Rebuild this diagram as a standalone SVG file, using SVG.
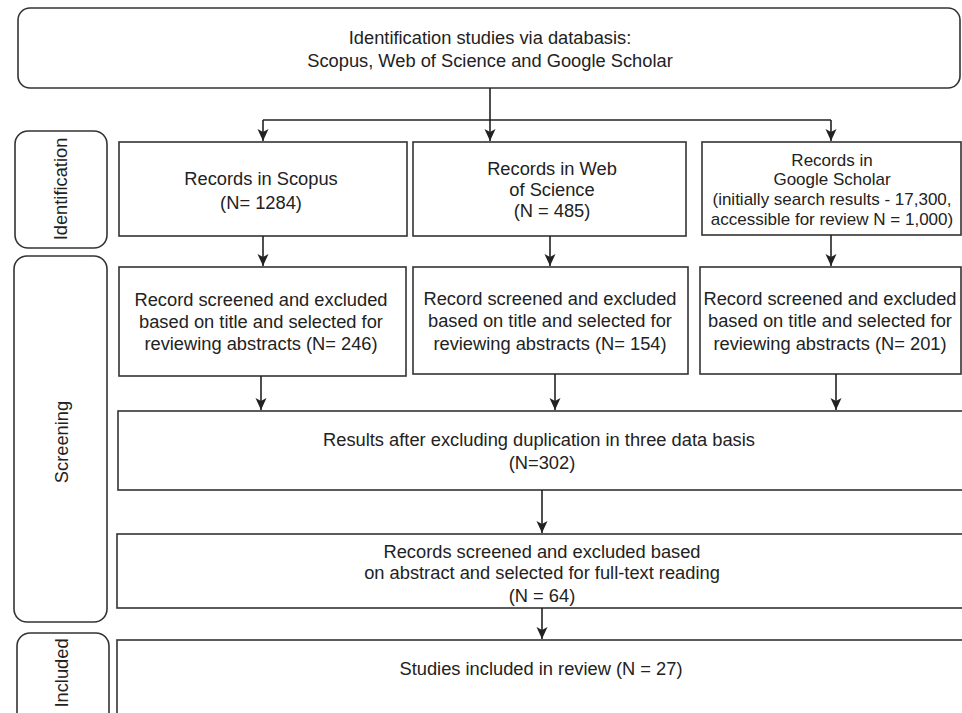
<svg xmlns="http://www.w3.org/2000/svg" width="962" height="713" viewBox="0 0 962 713">
<defs>
<style>
.box{fill:#fff;stroke:#333;stroke-width:1.6}
.t{font-family:"Liberation Sans",Arial,sans-serif;font-size:18.3px;fill:#222;text-anchor:middle}
.s{font-size:17px}
.c{fill:none;stroke:#222;stroke-width:1.6}
</style>
<marker id="ah" markerUnits="userSpaceOnUse" markerWidth="14" markerHeight="14" viewBox="0 0 14 14" refX="12" refY="7" orient="auto">
<path d="M0,1.5 L12,7 L0,12.5 L3,7 Z" fill="#222"/>
</marker>
</defs>
<rect width="962" height="713" fill="#fff"/>

<g id="top">
<rect class="box" x="18" y="8" width="942" height="80" rx="12"/>
<text class="t" x="490" y="43.5">Identification studies via databasis:</text>
<text class="t" x="490" y="66.5">Scopus, Web of Science and Google Scholar</text>
</g>

<g id="lbl-identification">
<rect class="box" x="15" y="131" width="92" height="117" rx="13"/>
<text class="t" transform="translate(67,189) rotate(-90)">Identification</text>
</g>
<g id="lbl-screening">
<rect class="box" x="14" y="256" width="93" height="366" rx="13"/>
<text class="t" transform="translate(68,442) rotate(-90)">Screening</text>
</g>
<g id="lbl-included">
<rect class="box" x="17" y="633" width="92" height="95" rx="13"/>
<text class="t" transform="translate(68,673) rotate(-90)">Included</text>
</g>

<g id="scopus">
<rect class="box" x="119" y="142" width="288" height="94"/>
<text class="t" x="261" y="184.5">Records in Scopus</text>
<text class="t" x="261" y="208.5">(N= 1284)</text>
</g>
<g id="wos">
<rect class="box" x="413" y="142" width="273" height="94"/>
<text class="t" x="552" y="174.5">Records in Web</text>
<text class="t" x="552" y="196">of Science</text>
<text class="t" x="552" y="217">(N = 485)</text>
</g>
<g id="gs">
<rect class="box" x="702" y="142" width="259" height="93"/>
<text class="t s" x="832" y="166">Records in</text>
<text class="t s" x="832" y="184.5">Google Scholar</text>
<text class="t s" x="832" y="204.5">(initially search results - 17,300,</text>
<text class="t s" x="832" y="224.5">accessible for review N = 1,000)</text>
</g>

<g id="screen1">
<rect class="box" x="119" y="267" width="287" height="109"/>
<text class="t" x="261" y="305.5">Record screened and excluded</text>
<text class="t" x="261" y="327.5">based on title and selected for</text>
<text class="t" x="261" y="350">reviewing abstracts (N= 246)</text>
</g>
<g id="screen2">
<rect class="box" x="413" y="267" width="275" height="107"/>
<text class="t" x="550" y="305">Record screened and excluded</text>
<text class="t" x="550" y="327">based on title and selected for</text>
<text class="t" x="550" y="350">reviewing abstracts  (N= 154)</text>
</g>
<g id="screen3">
<rect class="box" x="700" y="267" width="261" height="107"/>
<text class="t" x="830" y="305">Record screened and excluded</text>
<text class="t" x="830" y="327">based on title and selected for</text>
<text class="t" x="830" y="350">reviewing abstracts  (N= 201)</text>
</g>

<g id="results">
<rect class="box" x="118" y="411" width="860" height="79"/>
<text class="t" x="539" y="445.5">Results after excluding duplication in three data basis</text>
<text class="t" x="542" y="468.5">(N=302)</text>
</g>
<g id="fulltext">
<rect class="box" x="117" y="534" width="861" height="74"/>
<text class="t" x="542" y="557.5">Records screened and excluded based</text>
<text class="t" x="542" y="578.5">on abstract and selected for full-text reading</text>
<text class="t" x="542" y="602">(N = 64)</text>
</g>
<g id="included">
<rect class="box" x="117" y="640" width="861" height="90"/>
<text class="t" x="541" y="674.5">Studies included in review (N = 27)</text>
</g>

<g id="connectors">
<path class="c" d="M490,88 V141" marker-end="url(#ah)"/>
<path class="c" d="M263,120 H831"/>
<path class="c" d="M263,120 V141" marker-end="url(#ah)"/>
<path class="c" d="M831,120 V141" marker-end="url(#ah)"/>
<path class="c" d="M263,236 V266" marker-end="url(#ah)"/>
<path class="c" d="M550,236 V266" marker-end="url(#ah)"/>
<path class="c" d="M831,235 V266" marker-end="url(#ah)"/>
<path class="c" d="M261,376 V410" marker-end="url(#ah)"/>
<path class="c" d="M555,374 V410" marker-end="url(#ah)"/>
<path class="c" d="M836,374 V410" marker-end="url(#ah)"/>
<path class="c" d="M542,490 V533" marker-end="url(#ah)"/>
<path class="c" d="M542,608 V639" marker-end="url(#ah)"/>
</g>
</svg>
